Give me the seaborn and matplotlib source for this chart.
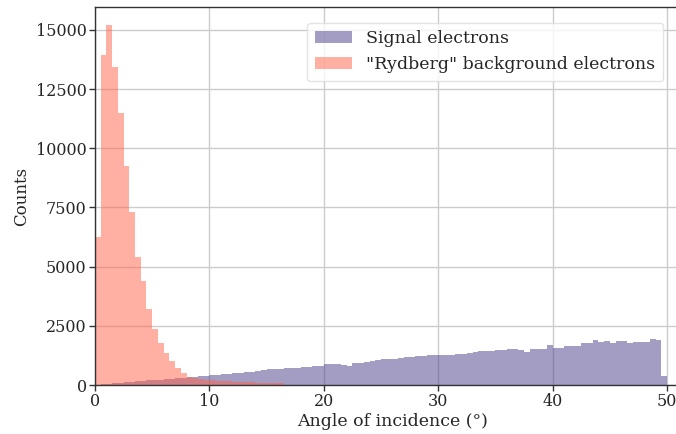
import numpy as np
import pandas as pd
import matplotlib
matplotlib.use("Agg")
import matplotlib.pyplot as plt
import seaborn as sns

# Bin width (degrees)
bin_width = 0.5

# Signal electrons: counts per 0.5° bin from 0 to 49.5°
signal_counts = [
    15, 35, 55, 75, 95, 115, 135, 155, 175, 195,
    210, 230, 250, 270, 290, 310, 330, 345, 365, 390,
    420, 440, 460, 480, 500, 520, 555, 565, 600, 650,
    660, 670, 690, 700, 720, 735, 760, 775, 790, 810,
    870, 880, 880, 860, 815, 920, 940, 980, 1010, 1050,
    1085, 1090, 1100, 1120, 1170, 1175, 1225, 1240, 1250, 1255,
    1267, 1270, 1280, 1300, 1330, 1350, 1380, 1420, 1440, 1450,
    1470, 1480, 1500, 1510, 1480, 1380, 1500, 1510, 1520, 1675,
    1575, 1580, 1650, 1650, 1660, 1760, 1760, 1900, 1820, 1870,
    1760, 1860, 1850, 1790, 1800, 1830, 1830, 1930, 1900, 395,
]

# "Rydberg" background electrons: counts per 0.5° bin from 0 to 16.5°
rydberg_counts = [
    6240, 13950, 15230, 13450, 11500, 9270, 7310, 5420, 4390, 3210,
    2350, 1760, 1340, 1000, 705, 495, 350, 310, 260, 230,
    200, 180, 160, 150, 140, 130, 120, 110, 100, 95,
    90, 85, 80,
]

x_ticks = [0, 10, 20, 30, 40, 50]
y_ticks = [0, 2500, 5000, 7500, 10000, 12500, 15000]

sig_centers = (np.arange(len(signal_counts)) + 0.5) * bin_width
ryd_centers = (np.arange(len(rydberg_counts)) + 0.5) * bin_width

sig_df = pd.DataFrame({"angle": sig_centers, "count": np.asarray(signal_counts, float)})
ryd_df = pd.DataFrame({"angle": ryd_centers, "count": np.asarray(rydberg_counts, float)})

sns.set_theme(style="whitegrid")
plt.rcParams["font.family"] = ["DejaVu Serif"]
plt.rcParams["axes.edgecolor"] = "#333333"
plt.rcParams["grid.color"] = "#cccccc"

fig = plt.figure(figsize=(6.76, 4.34), dpi=100)
# axes extends slightly past the right edge (right spine cropped, as in the reference)
ax = fig.add_axes([95 / 676, 49 / 434, 595 / 676, 378 / 434])

sns.histplot(data=sig_df, x="angle", weights="count", binwidth=bin_width,
             binrange=(0, len(signal_counts) * bin_width), ax=ax,
             color="darkslateblue", alpha=0.5, linewidth=0,
             label="Signal electrons")
sns.histplot(data=ryd_df, x="angle", weights="count", binwidth=bin_width,
             binrange=(0, len(rydberg_counts) * bin_width), ax=ax,
             color="tomato", alpha=0.5, linewidth=0,
             label='"Rydberg" background electrons')

ax.set_xlim(0, 52)
ax.set_ylim(0, 15970)
ax.set_xticks(x_ticks)
ax.set_yticks(y_ticks)
ax.tick_params(axis="both", labelsize=11.5, length=4, width=1, color="#333333",
               bottom=True, left=True, pad=2)
ax.set_xlabel("Angle of incidence (°)", fontsize=12.5, labelpad=2)
ax.set_ylabel("Counts", fontsize=12, labelpad=4)
for s in ax.spines.values():
    s.set_linewidth(1.0)
    s.set_color("#333333")
ax.grid(True, color="#cccccc", linewidth=1)
ax.set_axisbelow(True)

leg = ax.legend(loc="upper right", fontsize=12.5, frameon=True, borderpad=0.45,
                handlelength=2.1, handletextpad=0.85,
                bbox_to_anchor=(672 / 676, 1 - 14 / 434),
                bbox_transform=fig.transFigure)
leg.get_frame().set_edgecolor("#dddddd")

fig.savefig("out.png", dpi=100)
